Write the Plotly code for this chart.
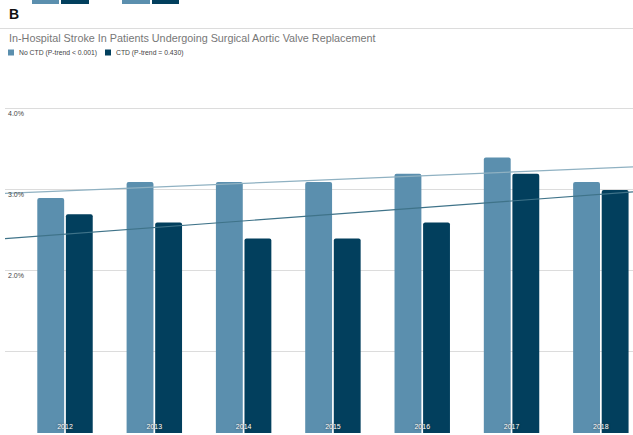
import numpy as np
import plotly.graph_objects as go

years = ["2012", "2013", "2014", "2015", "2016", "2017", "2018"]
no_ctd = [2.9, 3.1, 3.1, 3.1, 3.2, 3.4, 3.1]
ctd = [2.7, 2.6, 2.4, 2.4, 2.6, 3.2, 3.0]
y_ticks = [0, 1, 2, 3, 4]
y_tick_text = ["", "", "2.0%", "3.0%", "4.0%"]

LIGHT = "#5b8fae"
DARK = "#023f5d"
W, H = 633, 435

xpos = np.arange(len(years))
x_range = [-0.672, 6.36]

fig = go.Figure()
fig.add_trace(go.Bar(x=xpos, y=no_ctd, name="No CTD (P-trend < 0.001)",
                     marker=dict(color=LIGHT, line=dict(width=0)), showlegend=False))
fig.add_trace(go.Bar(x=xpos, y=ctd, name="CTD (P-trend = 0.430)",
                     marker=dict(color=DARK, line=dict(width=0)), showlegend=False))

# linear trendlines fitted to each series, spanning the full plot width
xt = np.array(x_range)
for vals, col in [(no_ctd, "#8fb1c2"), (ctd, "#3f7389")]:
    k, b = np.polyfit(xpos, vals, 1)
    fig.add_trace(go.Scatter(x=xt, y=k * xt + b, mode="lines",
                             line=dict(color=col, width=1.2),
                             showlegend=False, hoverinfo="skip"))

font = "Liberation Sans, Arial, sans-serif"

fig.update_layout(
    width=W, height=H,
    margin=dict(l=0, r=0, t=0, b=0),
    paper_bgcolor="white", plot_bgcolor="white",
    barmode="group", bargap=0.36, bargroupgap=0.06,
    barcornerradius=2,
    font=dict(family=font),
    xaxis=dict(domain=[5 / W, 1], range=x_range, tickvals=list(xpos),
               ticktext=years, ticklabelposition="inside", ticks="",
               showgrid=False, zeroline=False, showline=False,
               tickfont=dict(size=7, color="white",
                             shadow="0px 0px 2px #333")),
    yaxis=dict(domain=[2 / H, (H - 27) / H], range=[0, 5.012],
               tickvals=y_ticks, ticktext=y_tick_text,
               ticklabelposition="inside bottom", ticks="",
               showgrid=True, gridcolor="#dcdcdc", gridwidth=1,
               zeroline=True, zerolinecolor="#dcdcdc",
               tickfont=dict(size=7, color="#444")),
)

def px_x(v):
    return v / W

def px_y(v):
    return 1 - v / H

# top rule of the plot area (5% level)
fig.add_shape(type="line", xref="paper", yref="paper",
              x0=0, x1=1, y0=px_y(28.5), y1=px_y(28.5),
              line=dict(color="#dcdcdc", width=1))

# strip of bars from the panel above
for x0, x1, c in [(32, 59, LIGHT), (61, 89, DARK), (122, 150, LIGHT), (152, 179, DARK)]:
    fig.add_shape(type="rect", xref="paper", yref="paper",
                  x0=px_x(x0), x1=px_x(x1), y0=px_y(4), y1=1.01,
                  fillcolor=c, line=dict(width=0))

fig.add_annotation(text="<b>B</b>", xref="paper", yref="paper",
                   x=px_x(7), y=px_y(14), xanchor="left", yanchor="middle",
                   showarrow=False, font=dict(size=14, color="#111", family=font))
fig.add_annotation(text="In-Hospital Stroke In Patients Undergoing Surgical Aortic Valve Replacement",
                   xref="paper", yref="paper", x=px_x(7), y=px_y(38),
                   xanchor="left", yanchor="middle", showarrow=False,
                   font=dict(size=10.8, color="#777", family=font))

# legend
for sx, col, label, tx in [(8, LIGHT, "No CTD (P-trend < 0.001)", 17),
                           (105, DARK, "CTD (P-trend = 0.430)", 114)]:
    fig.add_shape(type="rect", xref="paper", yref="paper",
                  x0=px_x(sx), x1=px_x(sx + 6), y0=px_y(55.5), y1=px_y(49.5),
                  fillcolor=col, line=dict(width=0))
    fig.add_annotation(text=label, xref="paper", yref="paper",
                       x=px_x(tx), y=px_y(52.5), xanchor="left", yanchor="middle",
                       showarrow=False, font=dict(size=6.8, color="#444", family=font))

fig.write_html("out.html")
